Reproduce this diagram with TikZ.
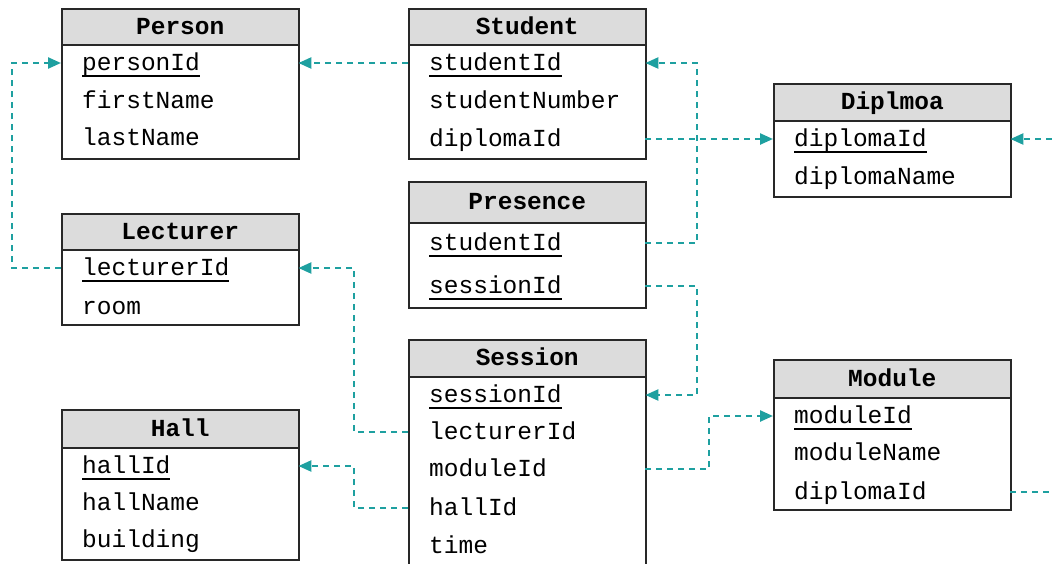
\documentclass[tikz,border=0pt]{standalone}
\usepackage{fontspec}
\setmainfont{Liberation Mono}
\usetikzlibrary{arrows.meta,calc}
\definecolor{fkteal}{RGB}{30,160,160}
\definecolor{hdrgray}{RGB}{220,220,220}
\definecolor{boxline}{RGB}{40,40,40}
\newcommand\pk[1]{\setbox0\hbox{#1}\rlap{\rule[-6pt]{\wd0}{1.6pt}}\box0}
% \erbox{id}{x}{top}{header bottom}{bottom}{title}
\newcommand\erbox[6]{%
  \node[hdr, minimum height={#4-#3}] (#1-head) at (#2,#3) {};
  \node[ttl] (#1-title) at (#1-head.center) {#6};
  \node[body, minimum height={#5-#4}] (#1-body) at (#2,#4) {};
}
\tikzset{
  hdr/.style={anchor=north west, draw=boxline, line width=1.5pt, fill=hdrgray, minimum width=237pt, inner sep=0pt},
  body/.style={anchor=north west, draw=boxline, line width=1.5pt, fill=white, minimum width=237pt, inner sep=0pt},
  ttl/.style={font=\fontsize{24.5}{28}\selectfont\bfseries, inner sep=0pt, text height=18pt, text depth=3pt},
  row/.style={anchor=west, minimum width=237pt, text width=195pt, align=left, inner xsep=21pt, inner ysep=0pt, text height=18pt, text depth=3pt},
  fk/.style={draw=fkteal, line width=2.4pt, dash pattern=on 6pt off 5pt, -{Triangle[length=13pt,width=11pt,fill=fkteal]}},
}
\begin{document}
\begin{tikzpicture}[x=1pt,y=-1pt,font=\fontsize{24.5}{28}\selectfont]
\useasboundingbox (0,0) rectangle (1052,563);
\clip (0,0) rectangle (1052,563);
% tables
\erbox{person}{61}{8}{44}{158}{Person}
\node[row] (person-personId) at (61,63) {\pk{personId}};
\node[row] (person-firstName) at (61,101) {firstName};
\node[row] (person-lastName) at (61,138) {lastName};

\erbox{student}{408}{8}{44}{158}{Student}
\node[row] (student-studentId) at (408,63) {\pk{studentId}};
\node[row] (student-studentNumber) at (408,101) {studentNumber};
\node[row] (student-diplomaId) at (408,139) {diplomaId};

\erbox{diplmoa}{773}{83}{120}{196}{Diplmoa}
\node[row] (diplmoa-diplomaId) at (773,139) {\pk{diplomaId}};
\node[row] (diplmoa-diplomaName) at (773,177) {diplomaName};

\erbox{lecturer}{61}{213}{249}{324}{Lecturer}
\node[row] (lecturer-lecturerId) at (61,268) {\pk{lecturerId}};
\node[row] (lecturer-room) at (61,307) {room};

\erbox{presence}{408}{181}{222}{307}{Presence}
\node[row] (presence-studentId) at (408,243) {\pk{studentId}};
\node[row] (presence-sessionId) at (408,286) {\pk{sessionId}};

\erbox{session}{408}{339}{376}{600}{Session}
\node[row] (session-sessionId) at (408,395) {\pk{sessionId}};
\node[row] (session-lecturerId) at (408,432) {lecturerId};
\node[row] (session-moduleId) at (408,469) {moduleId};
\node[row] (session-hallId) at (408,508) {hallId};
\node[row] (session-time) at (408,546) {time};

\erbox{hall}{61}{409}{447}{559}{Hall}
\node[row] (hall-hallId) at (61,466) {\pk{hallId}};
\node[row] (hall-hallName) at (61,503) {hallName};
\node[row] (hall-building) at (61,540) {building};

\erbox{module}{773}{359}{397}{509}{Module}
\node[row] (module-moduleId) at (773,416) {\pk{moduleId}};
\node[row] (module-moduleName) at (773,453) {moduleName};
\node[row] (module-diplomaId) at (773,492) {diplomaId};

% routing columns
\coordinate (colA) at (12,0);
\coordinate (colB) at (354,0);
\coordinate (colC) at (697,0);
\coordinate (colD) at (709,0);
\coordinate (colE) at (1080,0);

% connectors
\draw[fk] (student-studentId.west) -- (person-personId.east);
\draw[fk] (lecturer-lecturerId.west) -- (lecturer-lecturerId.west -| colA) |- (person-personId.west);
\draw[fk] (presence-studentId.east) -- (presence-studentId.east -| colC) |- (student-studentId.east);
\draw[fk] (student-diplomaId.east) -- (diplmoa-diplomaId.west);
\draw[fk] (presence-sessionId.east) -- (presence-sessionId.east -| colC) |- (session-sessionId.east);
\draw[fk] (session-lecturerId.west) -- (session-lecturerId.west -| colB) |- (lecturer-lecturerId.east);
\draw[fk] (session-hallId.west) -- (session-hallId.west -| colB) |- (hall-hallId.east);
\draw[fk] (session-moduleId.east) -- (session-moduleId.east -| colD) |- (module-moduleId.west);
\draw[fk] (module-diplomaId.east) -- (module-diplomaId.east -| colE) |- (diplmoa-diplomaId.east);
\end{tikzpicture}
\end{document}
